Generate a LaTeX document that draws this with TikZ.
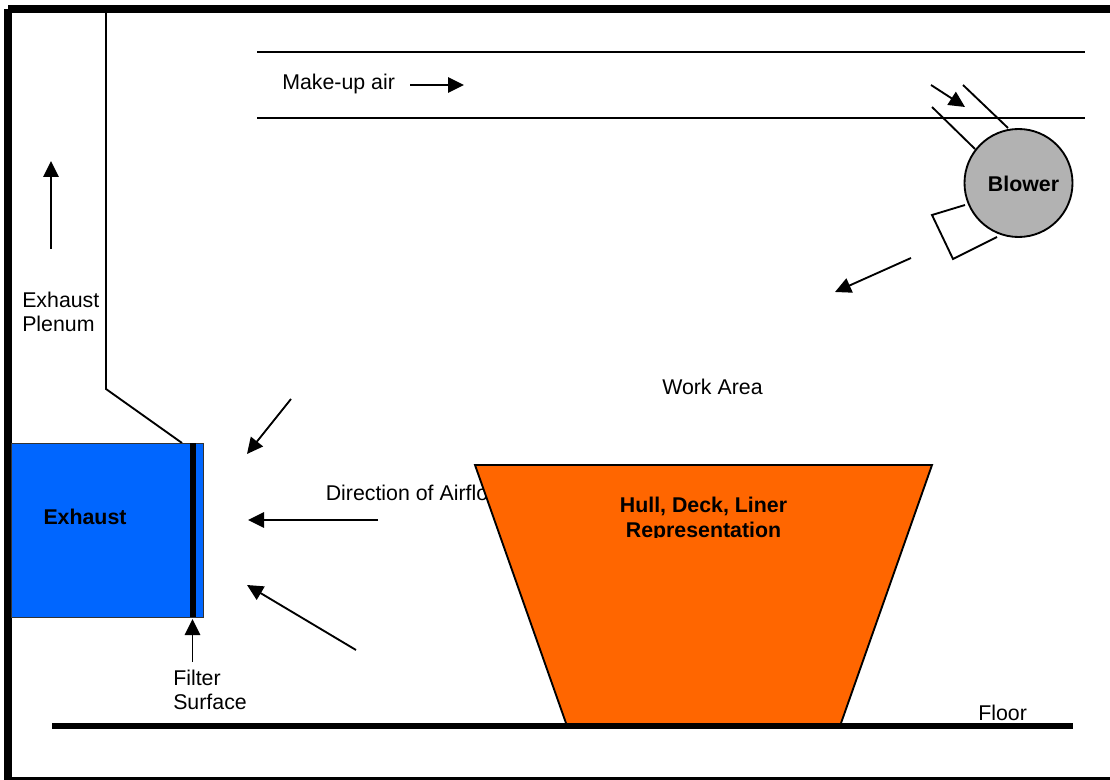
\documentclass[tikz,border=0pt]{standalone}
\usepackage{fontspec}
\setmainfont{Liberation Sans}
\usetikzlibrary{arrows.meta}
\tikzset{
  x=0.75pt,y=-0.75pt,
  thinline/.style={line width=1.4pt,black},
  flow/.style={line width=1.4pt,black,-{Triangle[length=12pt,width=11.5pt]}},
  label/.style={font=\fontsize{16}{18}\selectfont,inner sep=0pt,align=left,anchor=west},
  boldlabel/.style={font=\fontsize{16}{18.8}\selectfont\bfseries,inner sep=0pt},
}
\begin{document}
\begin{tikzpicture}
\useasboundingbox (0,0) rectangle (1110,780);
\fill[white] (0,0) rectangle (1110,780);
% frame
\draw[line width=6pt,black] (8,8.7) -- (1110,8.7);
\draw[line width=6pt,black] (8,8.7) -- (8,780);
\draw[line width=3pt,black] (8,778.5) -- (1110,778.5);
% ducts
\coordinate (pa) at (106,12);
\coordinate (pb) at (106,389);
\coordinate (pc) at (182,443);
\draw[thinline] (pa) -- (pb) -- (pc);
\coordinate (m1a) at (257,52);\coordinate (m1b) at (1085,52);
\coordinate (m2a) at (257,118);\coordinate (m2b) at (1085,118);
\draw[thinline] (m1a) -- (m1b);
\draw[thinline] (m2a) -- (m2b);
% exhaust
\node[draw=black!80,fill={rgb,255:red,0;green,102;blue,255},line width=0.8pt,inner sep=0pt,anchor=north west,minimum width=144pt,minimum height=130.5pt] (exh) at (11,443) {};
\node[boldlabel] (exl) at (85,517) {Exhaust};
\coordinate (fa) at (193,443);\coordinate (fb) at (193,617);
\draw[line width=4.5pt,black] (fa) -- (fb);
% blower
\node[circle,draw=black,fill={rgb,255:red,178;green,178;blue,178},line width=1.4pt,minimum size=81pt,inner sep=0pt] (bl) at (1018.5,183) {};
\node[boldlabel] (bll) at (1023.5,184) {Blower};
\coordinate (i1) at (932,107);\coordinate (i1e) at (975,149);
\coordinate (i2) at (963,85);\coordinate (i2e) at (1008,128);
\draw[thinline] (i1) -- (i1e);
\draw[thinline] (i2) -- (i2e);
\coordinate (o1) at (965,205);\coordinate (o2) at (932,215);\coordinate (o3) at (953,259);\coordinate (o4) at (997,237);
\draw[thinline] (o1) -- (o2) -- (o3) -- (o4);
% arrows
\coordinate (a1s) at (931,85);\coordinate (a1e) at (965,107);
\draw[flow] (a1s) -- (a1e);
\coordinate (a2s) at (911,258);\coordinate (a2e) at (835,292);
\draw[flow] (a2s) -- (a2e);
\coordinate (a3s) at (410,85);\coordinate (a3e) at (464,85);
\draw[flow] (a3s) -- (a3e);
\coordinate (a4s) at (51,249);\coordinate (a4e) at (51,161);
\draw[flow] (a4s) -- (a4e);
\coordinate (a5s) at (291,399);\coordinate (a5e) at (247,454);
\draw[flow] (a5s) -- (a5e);
\coordinate (a6s) at (378,520);\coordinate (a6e) at (248,520);
\draw[flow] (a6s) -- (a6e);
\coordinate (a7s) at (356,650);\coordinate (a7e) at (247,585);
\draw[flow] (a7s) -- (a7e);
\coordinate (a8s) at (192.5,662);\coordinate (a8e) at (192.5,619);
\draw[flow] (a8s) -- (a8e);
% floor
\coordinate (f1) at (52,726);\coordinate (f2) at (1073,726);
% labels
\node[label] (lmk) at (282,84) {Make-up air};
\node[label,text width=90pt] (lexp) at (22,312) {Exhaust\\Plenum};
\node[label] (lwa) at (662,387) {Work Area};
\node[label] (ldir) at (325.5,493) {Direction of Airflow};
\node[label,text width=90pt] (lfil) at (173,690) {Filter\\Surface};
\node[label] (lfl) at (978,713) {Floor};
% hull
\coordinate (h1) at (475,465);\coordinate (h2) at (932,465);\coordinate (h3) at (840,726);\coordinate (h4) at (567,726);
\draw[fill={rgb,255:red,255;green,102;blue,0},draw=black,line width=1.4pt] (h1) -- (h2) -- (h3) -- (h4) -- cycle;
\draw[line width=4.5pt,black] (f1) -- (f2);
\begin{scope}
\clip (600,490) rectangle (810,537.5);
\node[boldlabel,align=center] (hl) at (703.5,519.5) {Hull, Deck, Liner\\Representation};
\end{scope}
\end{tikzpicture}
\end{document}
